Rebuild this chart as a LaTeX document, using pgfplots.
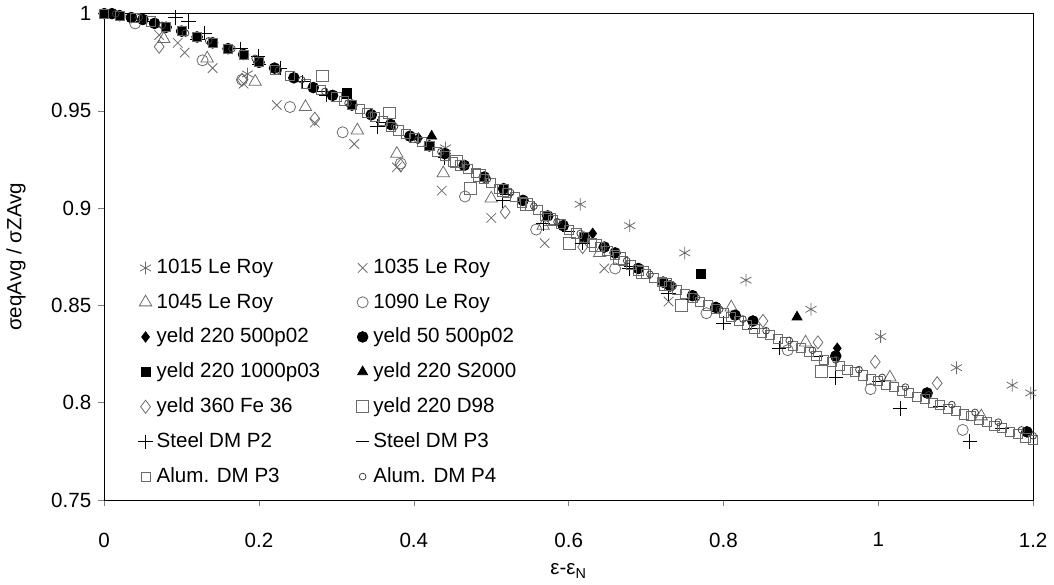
\documentclass[border=0pt]{standalone}
\usepackage{fontspec}
\setmainfont{Liberation Sans}
\usepackage{pgfplots}
\pgfplotsset{compat=1.18}
\definecolor{mk}{gray}{0.42}
\begin{document}
\begin{tikzpicture}
\begin{axis}[
  width=468bp, height=245bp, scale only axis,
  xmin=0, xmax=1.2, ymin=0.75, ymax=1,
  xtick={0,0.2,...,1.2}, ytick={0.75,0.8,0.85,0.9,0.95,1},
  xticklabels={0,0.2,0.4,0.6,0.8,1,1.2},
  yticklabels={0.75,0.8,0.85,0.9,0.95,1},
  xtick pos=bottom, ytick pos=left, tick align=outside,
  major tick length=3bp,
  font=\fontsize{10.4}{12}\selectfont,
  xticklabel style={yshift=-10bp},
  xlabel={ε-ε\textsubscript{N}}, ylabel={σeqAvg / σZAvg},
  xlabel style={yshift=-1.5bp},
  ylabel style={yshift=6bp},
  clip=false,
  legend columns=2,
  legend cell align=left,
  legend style={draw=none, fill=none, at={(0.03,0.512)}, anchor=north west,
    font=\fontsize{10.4}{12}\selectfont, row sep=4.6bp,
    /tikz/every even column/.append style={column sep=16bp}},
]
% 1015 Le Roy
\addplot[only marks, mark=asterisk, mark size=3.2bp, draw=mk] coordinates {
(0.185,0.969) (0.441,0.931) (0.615,0.902) (0.679,0.891) (0.750,0.877) (0.829,0.863)
(0.913,0.848) (1.003,0.834) (1.101,0.818) (1.173,0.809) (1.197,0.805)};
\addlegendentry{1015 Le Roy}
% 1035 Le Roy
\addplot[only marks, mark=x, mark size=3.4bp, draw=mk] coordinates {
(0.071,0.989) (0.095,0.985) (0.104,0.980) (0.140,0.972) (0.180,0.964) (0.223,0.953)
(0.272,0.944) (0.323,0.933) (0.378,0.921) (0.436,0.909) (0.500,0.895) (0.569,0.882)
(0.646,0.869) (0.729,0.852)};
\addlegendentry{1035 Le Roy}
% 1045 Le Roy
\addplot[only marks, mark=triangle, mark size=3.6bp, draw=mk] coordinates {
(0.077,0.987) (0.133,0.977) (0.195,0.965) (0.260,0.952) (0.327,0.940) (0.378,0.928)
(0.438,0.918) (0.500,0.905) (0.567,0.891) (0.640,0.877) (0.810,0.849) (0.906,0.831)
(1.015,0.813) (1.133,0.793)};
\addlegendentry{1045 Le Roy}
% 1090 Le Roy
\addplot[only marks, mark=o, mark size=2.8bp, draw=mk] coordinates {
(0.040,0.995) (0.127,0.976) (0.178,0.966) (0.240,0.952) (0.308,0.939) (0.383,0.923)
(0.466,0.906) (0.558,0.889) (0.660,0.869) (0.778,0.846) (0.883,0.827) (0.990,0.807)
(1.109,0.786)};
\addlegendentry{1090 Le Roy}
% yeld 220 500p02
\addplot[only marks, mark=diamond*, mark size=2.6bp, black] coordinates {
(0.406,0.936) (0.631,0.887) (0.947,0.828)};
\addlegendentry{yeld 220 500p02}
% yeld 50 500p02
\addplot[only marks, mark=*, mark size=2.7bp, black] coordinates {
(0.000,1.000) (0.010,1.000) (0.020,0.999) (0.035,0.998) (0.050,0.997) (0.065,0.995)
(0.080,0.993) (0.100,0.991) (0.120,0.988) (0.140,0.985) (0.160,0.982) (0.180,0.979)
(0.200,0.975) (0.220,0.972) (0.245,0.967) (0.270,0.962) (0.295,0.958) (0.320,0.953)
(0.345,0.948) (0.370,0.943) (0.395,0.937) (0.420,0.932) (0.440,0.928) (0.465,0.922)
(0.491,0.916) (0.516,0.910) (0.541,0.904) (0.573,0.896) (0.593,0.891) (0.620,0.885)
(0.646,0.880) (0.660,0.877) (0.690,0.869) (0.722,0.862) (0.731,0.860) (0.760,0.855)
(0.790,0.849) (0.815,0.845) (0.838,0.842) (0.945,0.824) (1.063,0.805) (1.192,0.785)};
\addlegendentry{yeld 50 500p02}
% yeld 220 1000p03
\addplot[only marks, mark=square*, mark size=2.3bp, black] coordinates {
(0.313,0.959) (0.771,0.866)};
\addlegendentry{yeld 220 1000p03}
% yeld 220 S2000
\addplot[only marks, mark=triangle*, mark size=2.9bp, black] coordinates {
(0.423,0.937) (0.895,0.844)};
\addlegendentry{yeld 220 S2000}
% yeld 360 Fe 36
\addplot[only marks, mark=diamond, mark size=3.3bp, draw=mk] coordinates {
(0.071,0.983) (0.178,0.966) (0.272,0.946) (0.383,0.922) (0.518,0.898) (0.618,0.880)
(0.851,0.842) (0.922,0.831) (0.996,0.821) (1.076,0.810)};
\addlegendentry{yeld 360 Fe 36}
% yeld 220 D98
\addplot[only marks, mark=square, mark size=3bp, draw=mk] coordinates {
(0.282,0.968) (0.368,0.949) (0.473,0.910) (0.601,0.882) (0.746,0.850) (0.926,0.816)
(0.455,0.924) (0.485,0.917) (0.515,0.909) (0.545,0.902) (0.575,0.894) (0.635,0.881)
(0.665,0.874) (0.695,0.867) (0.725,0.861)};
\addlegendentry{yeld 220 D98}
% Steel DM P2
\addplot[only marks, mark=+, mark size=3.6bp, black] coordinates {
(0.092,0.998) (0.109,0.996) (0.130,0.990) (0.176,0.982) (0.199,0.978) (0.227,0.972)
(0.256,0.965) (0.287,0.958) (0.353,0.942) (0.440,0.926) (0.515,0.904) (0.567,0.892)
(0.618,0.882) (0.678,0.869) (0.729,0.856) (0.800,0.841) (0.872,0.828) (0.945,0.813)
(1.028,0.797) (1.118,0.780)};
\addlegendentry{Steel DM P2}
% Steel DM P3
\addplot[only marks, mark=-, mark size=3.4bp, black] coordinates {
(0.050,0.996) (0.120,0.987) (0.200,0.974) (0.280,0.960) (0.360,0.944) (0.440,0.926)
(0.520,0.907) (0.600,0.888) (0.680,0.870) (0.760,0.853) (0.840,0.838) (0.920,0.824)
(1.000,0.811) (1.080,0.798) (1.160,0.787)};
\addlegendentry{Steel DM P3}
% Alum. DM P3
\addplot[only marks, mark=square, mark size=2.3bp, draw=mk] coordinates {
(0.00,1.000) (0.02,0.999) (0.04,0.998) (0.06,0.996) (0.08,0.993) (0.10,0.991)
(0.12,0.988) (0.14,0.985) (0.16,0.982) (0.18,0.979) (0.20,0.975) (0.22,0.971)
(0.24,0.968) (0.26,0.964) (0.28,0.961) (0.30,0.957) (0.32,0.953) (0.34,0.949)
(0.36,0.945) (0.38,0.940) (0.40,0.936) (0.42,0.932) (0.44,0.927) (0.46,0.922)
(0.48,0.918) (0.50,0.913) (0.52,0.908) (0.54,0.903) (0.56,0.899) (0.58,0.894)
(0.60,0.889) (0.62,0.885) (0.64,0.880) (0.66,0.876) (0.68,0.871) (0.70,0.866)
(0.72,0.862) (0.74,0.858) (0.76,0.854) (0.78,0.850) (0.80,0.846) (0.82,0.842)
(0.84,0.838) (0.86,0.835) (0.88,0.831) (0.90,0.828) (0.92,0.824) (0.94,0.821)
(0.96,0.817) (0.98,0.814) (1.00,0.811) (1.02,0.808) (1.04,0.805) (1.06,0.802)
(1.08,0.799) (1.10,0.796) (1.12,0.793) (1.14,0.790) (1.16,0.787) (1.18,0.784)
(1.20,0.781)
(0.31,0.955) (0.33,0.951) (0.35,0.947) (0.37,0.942) (0.39,0.938) (0.41,0.934)
(0.43,0.929) (0.45,0.924) (0.47,0.920) (0.49,0.915) (0.51,0.910) (0.53,0.906)
(0.55,0.901) (0.57,0.896) (0.59,0.892) (0.61,0.887) (0.63,0.882) (0.65,0.878)
(0.67,0.873) (0.69,0.868) (0.71,0.864) (0.73,0.860) (0.75,0.856) (0.77,0.852)
(0.79,0.848) (0.81,0.844) (0.83,0.840) (0.85,0.836) (0.87,0.833) (0.89,0.829)
(0.91,0.826) (0.93,0.822) (0.95,0.819) (0.97,0.816) (0.99,0.812) (1.01,0.809)
(1.03,0.806) (1.05,0.803) (1.07,0.800) (1.09,0.797) (1.11,0.794) (1.13,0.791)
(1.15,0.788) (1.17,0.785) (1.19,0.782)};
\addlegendentry{Alum. DM P3}
% Alum. DM P4
\addplot[only marks, mark=o, mark size=1.7bp, draw=black!75] coordinates {
(0.015,1.000) (0.045,0.998) (0.075,0.994) (0.105,0.990) (0.135,0.986) (0.165,0.982)
(0.195,0.977) (0.225,0.971) (0.255,0.966) (0.285,0.960) (0.315,0.954) (0.345,0.948)
(0.375,0.942) (0.405,0.935) (0.435,0.929) (0.465,0.922) (0.495,0.915) (0.525,0.908)
(0.555,0.901) (0.585,0.893) (0.615,0.887) (0.645,0.880) (0.675,0.873) (0.705,0.866)
(0.735,0.860) (0.765,0.854) (0.795,0.848) (0.825,0.843) (0.855,0.837) (0.885,0.832)
(0.915,0.827) (0.945,0.822) (0.975,0.817) (1.005,0.813) (1.035,0.808) (1.065,0.804)
(1.095,0.799) (1.125,0.795) (1.155,0.790) (1.185,0.786) (1.200,0.783)};
\addlegendentry{Alum. DM P4}
\end{axis}
\end{tikzpicture}
\end{document}
